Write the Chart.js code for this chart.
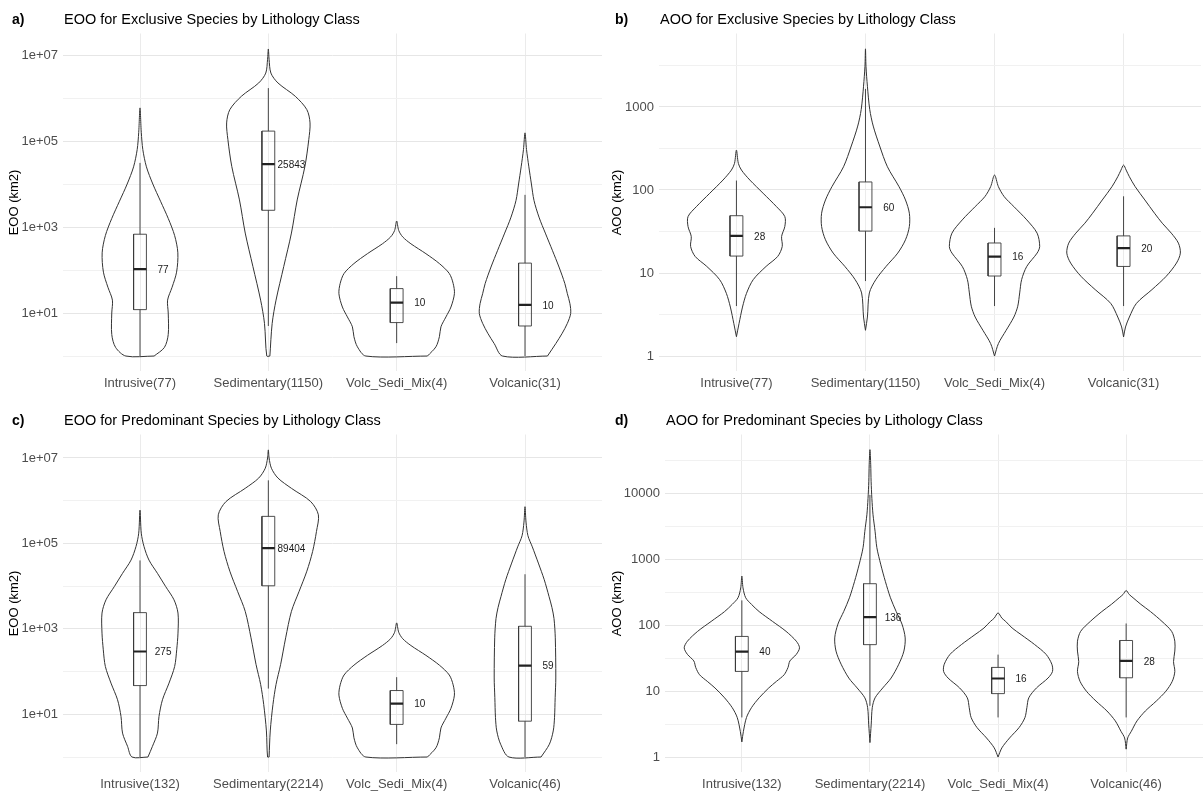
<!DOCTYPE html>
<html>
<head>
<meta charset="utf-8">
<script src="https://cdn.jsdelivr.net/npm/chart.js@4.4.0/dist/chart.umd.min.js"></script>
<style>
  html, body { margin: 0; padding: 0; background: #fff; overflow: hidden; width: 1203px; height: 796px; }
  .panel { position: absolute; }
</style>
</head>
<body>
<div class="panel" style="left:0;top:0"><canvas id="chartA" width="603" height="398"></canvas></div>
<div class="panel" style="left:603px;top:0"><canvas id="chartB" width="600" height="398"></canvas></div>
<div class="panel" style="left:0;top:401px"><canvas id="chartC" width="603" height="398"></canvas></div>
<div class="panel" style="left:603px;top:401px"><canvas id="chartD" width="600" height="398"></canvas></div>
<script>
// ---- categories ----
const categoriesExcl = ['Intrusive(77)', 'Sedimentary(1150)', 'Volc_Sedi_Mix(4)', 'Volcanic(31)'];
const categoriesPred = ['Intrusive(132)', 'Sedimentary(2214)', 'Volc_Sedi_Mix(4)', 'Volcanic(46)'];

// ---- y axis ticks ----
const eooTicks = [10, 1000, 1e5, 1e7];
const eooTickLabels = ['1e+01', '1e+03', '1e+05', '1e+07'];
const eooMinor = [1, 100, 1e4, 1e6];
const aooExclTicks = [1, 10, 100, 1000];
const aooExclTickLabels = ['1', '10', '100', '1000'];
const aooExclMinor = [3.162, 31.62, 316.2, 3162];
const aooPredTicks = [1, 10, 100, 1000, 10000];
const aooPredTickLabels = ['1', '10', '100', '1000', '10000'];
const aooPredMinor = [3.162, 31.62, 316.2, 3162, 31623];

// ---- a) EOO exclusive: box stats ----
const eooExclLow = [1, 5, 2, 1];
const eooExclQ1 = [12, 2450, 6, 5];
const eooExclMedian = [105, 29000, 17.5, 15.5];
const eooExclQ3 = [680, 170000, 37, 145];
const eooExclHigh = [31000, 1700000, 72, 5600];
const eooExclLabels = ['77', '25843', '10', '10'];
// violin outlines: [log10(value), half width in category units], bottom to top
const eooExclViolins = [
  [[0, 0.11], [0.2, 0.19], [0.5, 0.22], [1.0, 0.22], [1.3, 0.215], [1.6, 0.25], [1.95, 0.285], [2.4, 0.295], [2.8, 0.27], [3.2, 0.22], [3.6, 0.16], [4.0, 0.10], [4.4, 0.05], [4.8, 0.022], [5.2, 0.01], [5.77, 0]],
  [[0, 0.012], [0.76, 0.03], [1.3, 0.06], [2.08, 0.12], [2.86, 0.18], [3.63, 0.225], [4.41, 0.285], [5.03, 0.315], [5.42, 0.325], [5.73, 0.30], [6.04, 0.21], [6.35, 0.075], [6.58, 0.02], [6.9, 0.006], [7.14, 0]],
  [[0, 0.24], [0.215, 0.306], [0.45, 0.333], [0.68, 0.345], [0.91, 0.384], [1.14, 0.423], [1.45, 0.45], [1.69, 0.44], [1.92, 0.41], [2.15, 0.333], [2.38, 0.228], [2.61, 0.111], [2.77, 0.047], [2.92, 0.016], [3.14, 0]],
  [[0, 0.175], [0.29, 0.24], [0.53, 0.29], [0.76, 0.33], [0.99, 0.356], [1.22, 0.35], [1.45, 0.33], [1.69, 0.31], [2.07, 0.265], [2.46, 0.213], [2.84, 0.161], [3.23, 0.109], [3.62, 0.07], [4.0, 0.05], [4.4, 0.03], [4.8, 0.012], [5.19, 0]]
];

// ---- b) AOO exclusive ----
const aooExclLow = [4, 8, 4, 4];
const aooExclQ1 = [16, 32, 9.2, 12];
const aooExclMedian = [28, 62, 15.8, 20];
const aooExclQ3 = [49, 125, 23, 28];
const aooExclHigh = [130, 1650, 35, 84];
const aooExclLabels = ['28', '60', '16', '20'];
const aooExclViolins = [
  [[0.233, 0], [0.39, 0.02], [0.59, 0.047], [0.755, 0.078], [0.92, 0.13], [1.08, 0.23], [1.2, 0.32], [1.32, 0.355], [1.44, 0.35], [1.56, 0.375], [1.68, 0.375], [1.8, 0.31], [1.96, 0.207], [2.12, 0.104], [2.24, 0.039], [2.32, 0.015], [2.48, 0]],
  [[0.31, 0], [0.47, 0.015], [0.76, 0.03], [0.92, 0.08], [1.08, 0.16], [1.24, 0.25], [1.4, 0.31], [1.56, 0.34], [1.72, 0.34], [1.88, 0.31], [2.04, 0.26], [2.28, 0.17], [2.53, 0.11], [2.77, 0.06], [2.97, 0.033], [3.25, 0.015], [3.49, 0.004], [3.70, 0]],
  [[0, 0], [0.15, 0.03], [0.31, 0.09], [0.47, 0.15], [0.6, 0.18], [0.76, 0.195], [0.92, 0.21], [1.08, 0.25], [1.24, 0.33], [1.32, 0.35], [1.48, 0.33], [1.64, 0.25], [1.8, 0.15], [1.92, 0.075], [2.04, 0.03], [2.18, 0]],
  [[0.23, 0], [0.35, 0.015], [0.47, 0.045], [0.635, 0.10], [0.8, 0.22], [0.96, 0.33], [1.12, 0.41], [1.24, 0.44], [1.36, 0.425], [1.48, 0.37], [1.6, 0.30], [1.72, 0.24], [1.88, 0.165], [2.04, 0.09], [2.16, 0.045], [2.24, 0.02], [2.3, 0]]
];

// ---- c) EOO predominant ----
const eooPredLow = [1, 40, 2, 1];
const eooPredQ1 = [47, 10200, 5.8, 6.9];
const eooPredMedian = [295, 78000, 17.7, 138];
const eooPredQ3 = [2400, 430000, 36, 1150];
const eooPredHigh = [40000, 3000000, 74, 19000];
const eooPredLabels = ['275', '89404', '10', '59'];
const eooPredViolins = [
  [[0, 0.062], [0.25, 0.097], [0.56, 0.136], [0.95, 0.148], [1.34, 0.175], [1.73, 0.226], [2.12, 0.27], [2.51, 0.286], [2.9, 0.296], [3.37, 0.296], [3.68, 0.265], [3.99, 0.2], [4.3, 0.136], [4.61, 0.07], [4.93, 0.031], [5.24, 0.01], [5.78, 0]],
  [[0, 0.006], [0.61, 0.015], [1.23, 0.036], [1.7, 0.06], [2.17, 0.096], [2.79, 0.135], [3.41, 0.18], [3.88, 0.24], [4.35, 0.30], [4.81, 0.345], [5.28, 0.375], [5.67, 0.39], [5.98, 0.33], [6.29, 0.18], [6.53, 0.075], [6.76, 0.024], [7.0, 0.006], [7.19, 0]],
  [[0, 0.24], [0.215, 0.306], [0.45, 0.333], [0.68, 0.345], [0.91, 0.384], [1.14, 0.423], [1.45, 0.45], [1.69, 0.44], [1.92, 0.41], [2.15, 0.333], [2.38, 0.228], [2.61, 0.111], [2.77, 0.047], [2.92, 0.016], [3.14, 0]],
  [[0, 0.125], [0.3, 0.19], [0.61, 0.22], [0.92, 0.23], [1.39, 0.235], [1.85, 0.24], [2.79, 0.236], [3.24, 0.226], [3.5, 0.21], [3.76, 0.187], [4.15, 0.15], [4.54, 0.104], [4.92, 0.057], [5.18, 0.023], [5.5, 0.008], [5.86, 0]]
];

// ---- d) AOO predominant ----
const aooPredLow = [4, 6, 4, 4];
const aooPredQ1 = [20, 51, 9.2, 16];
const aooPredMedian = [40, 134, 15.6, 29];
const aooPredQ3 = [68, 430, 23, 59];
const aooPredHigh = [240, 9600, 36, 107];
const aooPredLabels = ['40', '136', '16', '28'];
const aooPredViolins = [
  [[0.23, 0], [0.39, 0.012], [0.6, 0.036], [0.75, 0.075], [0.9, 0.135], [1.05, 0.21], [1.15, 0.27], [1.25, 0.33], [1.36, 0.36], [1.46, 0.375], [1.56, 0.425], [1.66, 0.45], [1.76, 0.425], [1.91, 0.345], [2.06, 0.24], [2.21, 0.135], [2.32, 0.075], [2.42, 0.03], [2.57, 0.009], [2.75, 0]],
  [[0.22, 0], [0.5, 0.01], [0.75, 0.018], [0.9, 0.04], [1.05, 0.10], [1.2, 0.165], [1.41, 0.225], [1.61, 0.265], [1.81, 0.275], [2.02, 0.25], [2.21, 0.205], [2.42, 0.16], [2.67, 0.12], [2.92, 0.085], [3.18, 0.054], [3.43, 0.04], [3.68, 0.024], [3.93, 0.015], [4.19, 0.009], [4.44, 0.006], [4.67, 0]],
  [[0, 0], [0.14, 0.03], [0.29, 0.09], [0.45, 0.165], [0.6, 0.21], [0.75, 0.225], [0.9, 0.24], [1.05, 0.30], [1.2, 0.39], [1.3, 0.425], [1.41, 0.42], [1.56, 0.375], [1.71, 0.285], [1.86, 0.18], [1.96, 0.11], [2.06, 0.06], [2.11, 0.03], [2.19, 0]],
  [[0.12, 0], [0.29, 0.012], [0.39, 0.04], [0.55, 0.085], [0.7, 0.15], [0.85, 0.235], [1.0, 0.31], [1.15, 0.36], [1.3, 0.38], [1.45, 0.37], [1.61, 0.38], [1.76, 0.38], [1.91, 0.355], [2.06, 0.28], [2.21, 0.19], [2.32, 0.115], [2.42, 0.054], [2.47, 0.024], [2.53, 0]]
];

const FONT = '"Liberation Sans", Arial, Helvetica, sans-serif';
Chart.defaults.font.family = FONT;
const LINE = '#333333';
const BOX_HALF = 0.05;
const LABEL_SHIFT = 0.18;

// titles, median labels
const panelText = {
  id: 'panelText',
  afterDatasetsDraw(chart, args, opts) {
    const { ctx, chartArea, scales } = chart;
    ctx.save();
    ctx.fillStyle = '#1a1a1a';
    ctx.font = '10px ' + FONT;
    ctx.textAlign = 'center';
    ctx.textBaseline = 'middle';
    opts.labels.forEach((t, i) => {
      ctx.fillText(t, scales.x.getPixelForValue(i + LABEL_SHIFT), scales.y.getPixelForValue(opts.medians[i]) + 1);
    });
    ctx.fillStyle = '#000';
    ctx.textAlign = 'left';
    ctx.font = 'bold 14px ' + FONT;
    ctx.fillText(opts.tag, 12, 20);
    ctx.font = '14.5px ' + FONT;
    ctx.fillText(opts.title, chartArea.left + 1, 20);
    ctx.restore();
  }
};

function pushSeg(arr, pts) {
  pts.forEach(p => {
    const last = arr[arr.length - 1];
    if (last && last.y !== null && last.x === p.x && last.y === p.y) return;
    arr.push(p);
  });
  arr.push({ x: pts[0].x, y: null });
}

function buildPanel(id, cfg) {
  const violinPts = [], boxPts = [], whiskerPts = [], medianPts = [];
  cfg.violins.forEach((prof, i) => {
    const right = prof.map(([lg, w]) => ({ x: i + w, y: Math.pow(10, lg) }));
    const left = prof.slice().reverse().map(([lg, w]) => ({ x: i - w, y: Math.pow(10, lg) }));
    pushSeg(violinPts, right.concat(left, [right[0]]));
    pushSeg(boxPts, [
      { x: i - BOX_HALF, y: cfg.q1[i] }, { x: i + BOX_HALF, y: cfg.q1[i] },
      { x: i + BOX_HALF, y: cfg.q3[i] }, { x: i - BOX_HALF, y: cfg.q3[i] },
      { x: i - BOX_HALF, y: cfg.q1[i] }
    ]);
    pushSeg(whiskerPts, [{ x: i, y: cfg.q3[i] }, { x: i, y: cfg.high[i] }]);
    pushSeg(whiskerPts, [{ x: i, y: cfg.low[i] }, { x: i, y: cfg.q1[i] }]);
    pushSeg(medianPts, [{ x: i - BOX_HALF, y: cfg.median[i] }, { x: i + BOX_HALF, y: cfg.median[i] }]);
  });

  const common = { showLine: true, pointRadius: 0, spanGaps: false, fill: false };
  const majorSet = new Set(cfg.yTicks);

  new Chart(document.getElementById(id), {
    type: 'scatter',
    data: {
      datasets: [
        Object.assign({ data: medianPts, borderColor: '#222', borderWidth: 2.2, tension: 0 }, common),
        Object.assign({ data: boxPts, borderColor: '#3a3a3a', borderWidth: 0.9, tension: 0 }, common),
        Object.assign({ data: whiskerPts, borderColor: '#444', borderWidth: 1, tension: 0 }, common),
        Object.assign({ data: violinPts, borderColor: LINE, borderWidth: 1, tension: 0.3 }, common)
      ]
    },
    options: {
      responsive: false,
      animation: false,
      events: [],
      layout: { padding: { top: 33.5, right: cfg.padRight, bottom: 0.6, left: 0 } },
      plugins: {
        legend: { display: false },
        tooltip: { enabled: false },
        panelText: { tag: cfg.tag, title: cfg.title, labels: cfg.labels, medians: cfg.median }
      },
      scales: {
        x: {
          type: 'linear', min: -0.6, max: 3.6,
          afterBuildTicks: s => { s.ticks = [0, 1, 2, 3].map(v => ({ value: v })); },
          afterFit: s => { s.height = 26; },
          ticks: {
            callback: v => cfg.categories[v],
            color: '#4d4d4d', font: { size: 13 }, padding: 4, autoSkip: false, maxRotation: 0
          },
          grid: { color: '#ebebeb', lineWidth: 1, drawTicks: false },
          border: { display: false }
        },
        y: {
          type: 'logarithmic',
          min: Math.pow(10, cfg.yRange[0]), max: Math.pow(10, cfg.yRange[1]),
          afterBuildTicks: s => {
            s.ticks = cfg.yMinor.concat(cfg.yTicks).sort((a, b) => a - b).map(v => ({ value: v }));
          },
          afterFit: s => { s.width = cfg.axisWidth; },
          ticks: {
            callback: v => { const k = cfg.yTicks.indexOf(v); return k >= 0 ? cfg.yTickLabels[k] : ''; },
            color: '#4d4d4d', font: { size: 13 }, padding: 5, autoSkip: false
          },
          grid: {
            color: c => majorSet.has(c.tick.value) ? '#e6e6e6' : '#f1f1f1',
            lineWidth: 1, drawTicks: false
          },
          border: { display: false },
          title: { display: true, text: cfg.yTitle, color: '#000', font: { size: 13 }, padding: { top: 7, bottom: 0 } }
        }
      }
    },
    plugins: [panelText]
  });
}

buildPanel('chartA', {
  tag: 'a)', title: 'EOO for Exclusive Species by Lithology Class', yTitle: 'EOO (km2)',
  categories: categoriesExcl, violins: eooExclViolins,
  low: eooExclLow, q1: eooExclQ1, median: eooExclMedian, q3: eooExclQ3, high: eooExclHigh, labels: eooExclLabels,
  yTicks: eooTicks, yTickLabels: eooTickLabels, yMinor: eooMinor, yRange: [-0.357, 7.5],
  axisWidth: 63, padRight: 1
});
buildPanel('chartB', {
  tag: 'b)', title: 'AOO for Exclusive Species by Lithology Class', yTitle: 'AOO (km2)',
  categories: categoriesExcl, violins: aooExclViolins,
  low: aooExclLow, q1: aooExclQ1, median: aooExclMedian, q3: aooExclQ3, high: aooExclHigh, labels: aooExclLabels,
  yTicks: aooExclTicks, yTickLabels: aooExclTickLabels, yMinor: aooExclMinor, yRange: [-0.185, 3.885],
  axisWidth: 56, padRight: 2
});
buildPanel('chartC', {
  tag: 'c)', title: 'EOO for Predominant Species by Lithology Class', yTitle: 'EOO (km2)',
  categories: categoriesPred, violins: eooPredViolins,
  low: eooPredLow, q1: eooPredQ1, median: eooPredMedian, q3: eooPredQ3, high: eooPredHigh, labels: eooPredLabels,
  yTicks: eooTicks, yTickLabels: eooTickLabels, yMinor: eooMinor, yRange: [-0.36, 7.55],
  axisWidth: 63, padRight: 1
});
buildPanel('chartD', {
  tag: 'd)', title: 'AOO for Predominant Species by Lithology Class', yTitle: 'AOO (km2)',
  categories: categoriesPred, violins: aooPredViolins,
  low: aooPredLow, q1: aooPredQ1, median: aooPredMedian, q3: aooPredQ3, high: aooPredHigh, labels: aooPredLabels,
  yTicks: aooPredTicks, yTickLabels: aooPredTickLabels, yMinor: aooPredMinor, yRange: [-0.233, 4.9],
  axisWidth: 62, padRight: 0
});
</script>
</body>
</html>
